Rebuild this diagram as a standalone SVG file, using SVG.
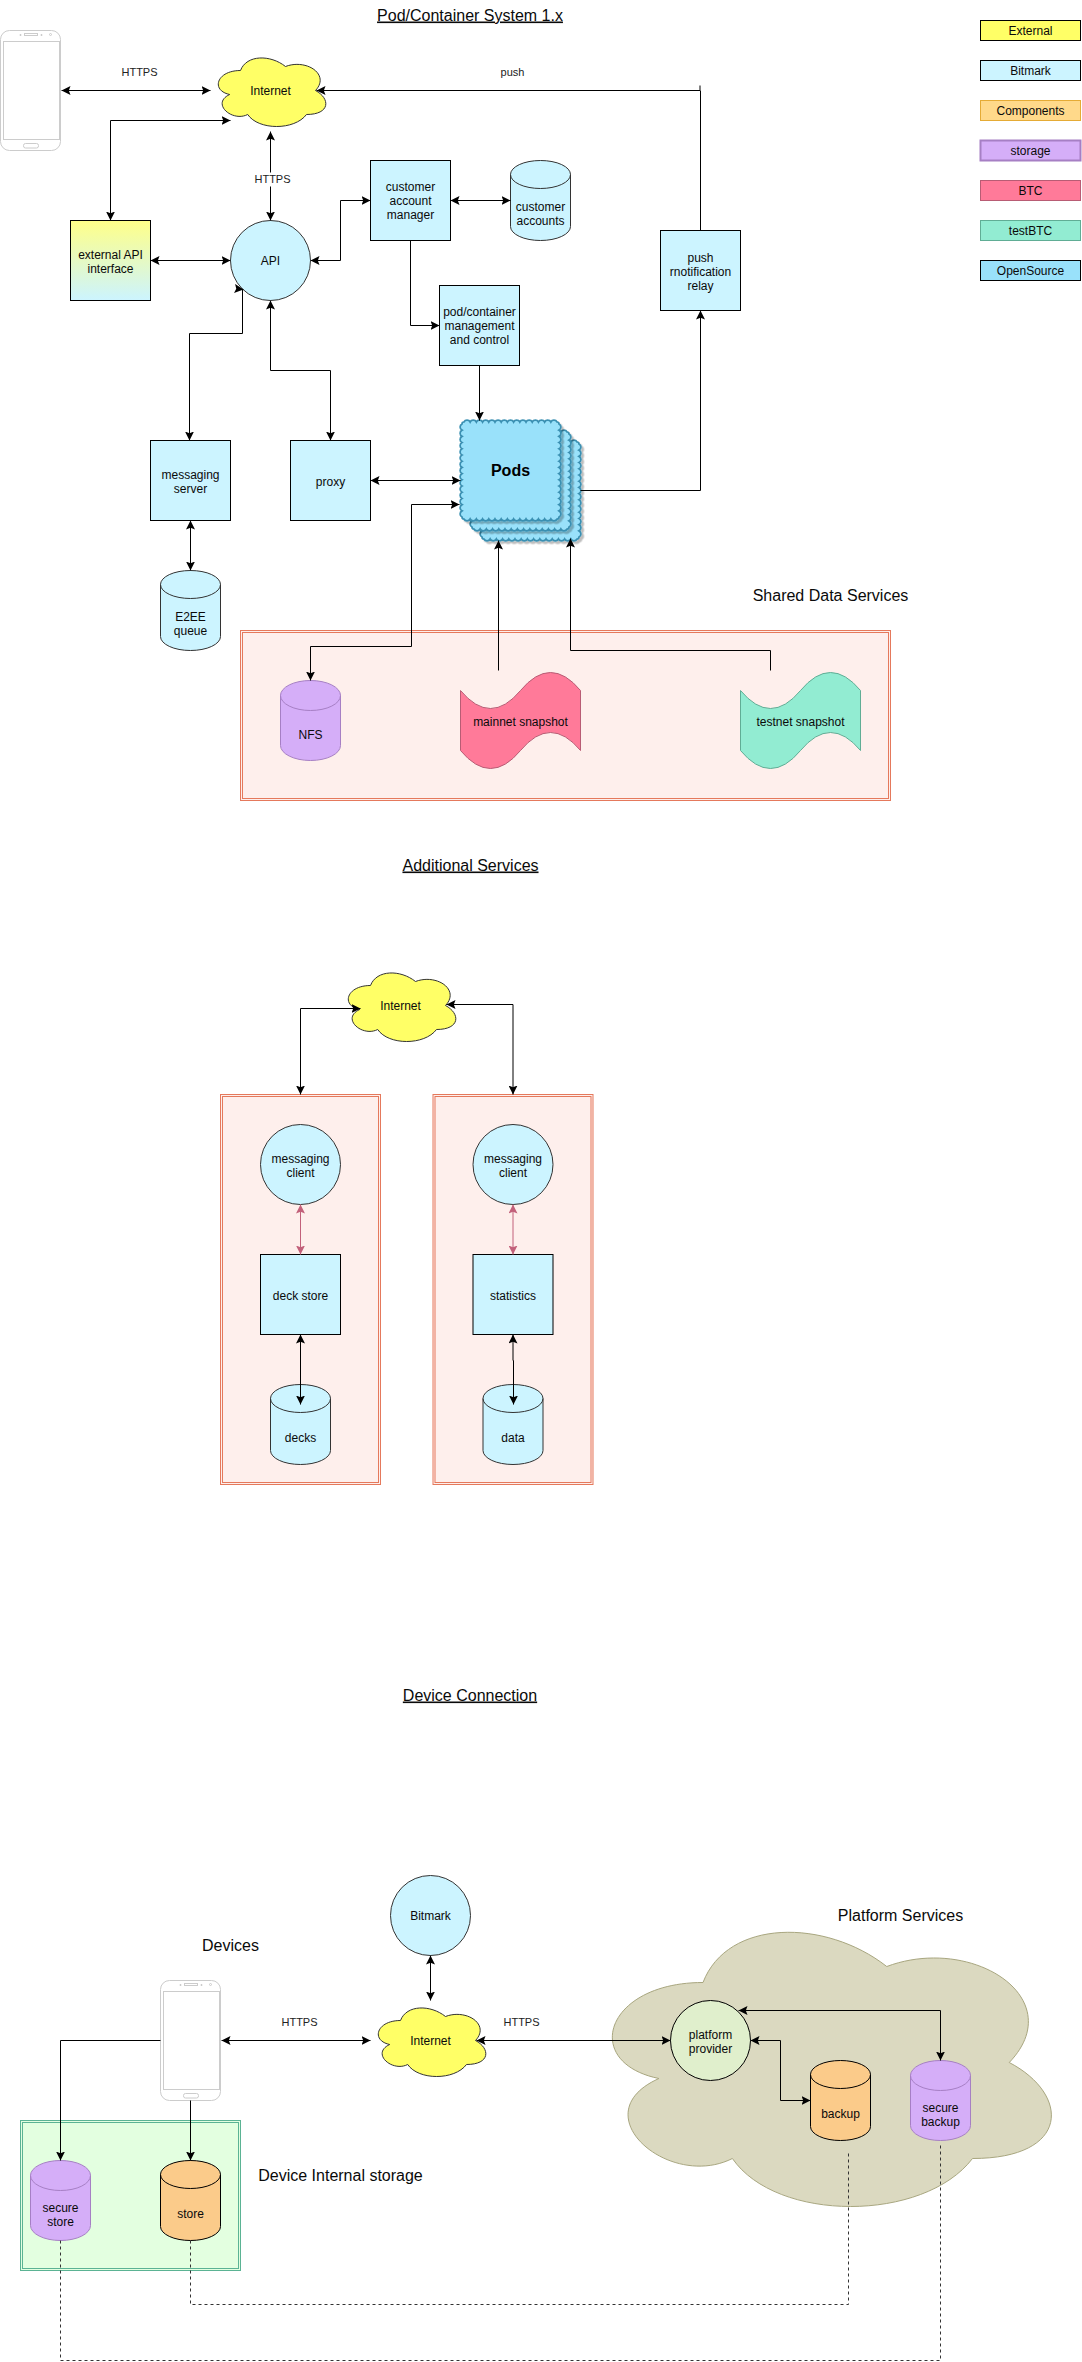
<svg xmlns="http://www.w3.org/2000/svg" xmlns:xlink="http://www.w3.org/1999/xlink" width="1082" height="2362" viewBox="0 0 1082 2362">
<style>
text{font-family:"Liberation Sans",Arial,sans-serif;font-size:12px;fill:#0a0a0a;text-anchor:middle}
.h{font-size:16px}
.u{text-decoration:underline}
.l{font-size:11px;fill:#222}
.b{font-size:16px;font-weight:bold;fill:#000}
.bm{fill:#ccf4ff;stroke:#000}
.bmo{fill:#ccf4ff;stroke:#333}
.ex{fill:#ffff66;stroke:#000}
.ext{fill:#ffff66;stroke:#333}
.cp{fill:#ffd98a;stroke:#e5ab35}
.st{fill:#d5aef8;stroke:#a67fc4}
.btc{fill:#ff7a99;stroke:#b85c74}
.tb{fill:#92ecd2;stroke:#60ad95}
.os{fill:#99e1fa;stroke:#000}
.or{fill:#fbcb8a;stroke:#000}
.fr{fill:#feefec;stroke:#e5795c}
.frg{fill:#e3ffe0;stroke:#5bb394}
.in{fill:none}
.c{fill:none;stroke:#000;stroke-width:1}
.a{marker-end:url(#ah)}
.aa{marker-start:url(#ah);marker-end:url(#ah)}
.r{stroke:#c2607a;marker-start:url(#ahr);marker-end:url(#ahr)}
.d{stroke:#333;stroke-dasharray:3 3}
.ph{fill:#fff;stroke:#ccc}
</style>
<defs>
<marker id="ah" markerUnits="userSpaceOnUse" markerWidth="9" markerHeight="9" viewBox="0 0 8 8" refX="8" refY="4" orient="auto-start-reverse"><path d="M8 4L0 0L1.500 4L0 8Z" fill="#000"/></marker>
<marker id="ahr" markerUnits="userSpaceOnUse" markerWidth="9" markerHeight="9" viewBox="0 0 8 8" refX="8" refY="4" orient="auto-start-reverse"><path d="M8 4L0 0L1.500 4L0 8Z" fill="#c2607a"/></marker>
<linearGradient id="g" x1="0" y1="0" x2="0" y2="1"><stop offset="0" stop-color="#ffff88"/><stop offset="1" stop-color="#ccf4ff"/></linearGradient>
<filter id="sh" x="-10%" y="-10%" width="125%" height="125%"><feDropShadow dx="2.500" dy="2.500" stdDeviation="0.400" flood-color="#000" flood-opacity="0.250"/></filter>
<g id="cyl"><path d="M0 14A30 14 0 0 1 60 14V66A30 14 0 0 1 0 66Z"/><path d="M0 14A30 14 0 0 0 60 14" fill="none"/></g>
<g id="cyl15"><path d="M0 15A30 15 0 0 1 60 15V65A30 15 0 0 1 0 65Z"/><path d="M0 15A30 15 0 0 0 60 15" fill="none"/></g>
<path id="pod" d="M2 0a3.6 3.6 0 0 1 6.4 0a3.6 3.6 0 0 1 6.4 0a3.6 3.6 0 0 1 6.4 0a3.6 3.6 0 0 1 6.4 0a3.6 3.6 0 0 1 6.4 0a3.6 3.6 0 0 1 6.4 0a3.6 3.6 0 0 1 6.4 0a3.6 3.6 0 0 1 6.4 0a3.6 3.6 0 0 1 6.4 0a3.6 3.6 0 0 1 6.4 0a3.6 3.6 0 0 1 6.4 0a3.6 3.6 0 0 1 6.4 0a3.6 3.6 0 0 1 6.4 0a3.6 3.6 0 0 1 6.4 0a3.6 3.6 0 0 1 6.4 0q2 0 2 2a3.6 3.6 0 0 1 0 6.4a3.6 3.6 0 0 1 0 6.4a3.6 3.6 0 0 1 0 6.4a3.6 3.6 0 0 1 0 6.4a3.6 3.6 0 0 1 0 6.4a3.6 3.6 0 0 1 0 6.4a3.6 3.6 0 0 1 0 6.4a3.6 3.6 0 0 1 0 6.4a3.6 3.6 0 0 1 0 6.4a3.6 3.6 0 0 1 0 6.4a3.6 3.6 0 0 1 0 6.4a3.6 3.6 0 0 1 0 6.4a3.6 3.6 0 0 1 0 6.4a3.6 3.6 0 0 1 0 6.4a3.6 3.6 0 0 1 0 6.4q0 2 -2 2a3.6 3.6 0 0 1 -6.4 0a3.6 3.6 0 0 1 -6.4 0a3.6 3.6 0 0 1 -6.4 0a3.6 3.6 0 0 1 -6.4 0a3.6 3.6 0 0 1 -6.4 0a3.6 3.6 0 0 1 -6.4 0a3.6 3.6 0 0 1 -6.4 0a3.6 3.6 0 0 1 -6.4 0a3.6 3.6 0 0 1 -6.4 0a3.6 3.6 0 0 1 -6.4 0a3.6 3.6 0 0 1 -6.4 0a3.6 3.6 0 0 1 -6.4 0a3.6 3.6 0 0 1 -6.4 0a3.6 3.6 0 0 1 -6.4 0a3.6 3.6 0 0 1 -6.4 0q-2 0 -2 -2a3.6 3.6 0 0 1 0 -6.4a3.6 3.6 0 0 1 0 -6.4a3.6 3.6 0 0 1 0 -6.4a3.6 3.6 0 0 1 0 -6.4a3.6 3.6 0 0 1 0 -6.4a3.6 3.6 0 0 1 0 -6.4a3.6 3.6 0 0 1 0 -6.4a3.6 3.6 0 0 1 0 -6.4a3.6 3.6 0 0 1 0 -6.4a3.6 3.6 0 0 1 0 -6.4a3.6 3.6 0 0 1 0 -6.4a3.6 3.6 0 0 1 0 -6.4a3.6 3.6 0 0 1 0 -6.4a3.6 3.6 0 0 1 0 -6.4a3.6 3.6 0 0 1 0 -6.4q0 -2 2 -2Z" fill="#99e1fa" stroke="#3a90b2" stroke-width="1.800"/>
<g id="phone">
<rect x="0" y="0" width="60" height="120" rx="9" ry="9"/>
<rect x="3" y="11" width="56" height="98" fill="none"/>
<rect x="24" y="3" width="13" height="2" fill="none"/>
<circle cx="50" cy="4" r="1" fill="none"/>
<path d="M20 3.500v2M19 4.500h2M41 3.500v2M40 4.500h2" fill="none"/>
<rect x="23" y="113" width="15" height="4.500" rx="2" fill="none"/>
</g>
<path id="cloud" d="M30 20C6 20 0 40 19.200 44C0 52.800 21.600 72 37.200 64C48 80 84 80 96 64C120 64 120 48 105 40C120 24 96 8 75 16C60 4 36 4 30 20Z"/>
</defs>
<g transform="translate(.5 .5)">
<text class="h u" x="469.500" y="20">Pod/Container System 1.x</text>
<text class="h u" x="470" y="870">Additional Services</text>
<text class="h u" x="469.500" y="1700">Device Connection</text>
<text class="h" x="830" y="600">Shared Data Services</text>
<text class="h" x="230" y="1950">Devices</text>
<text class="h" x="340" y="2180">Device Internal storage</text>
<text class="h" x="900" y="1920">Platform Services</text>

<g id="legend">
<g id="leg-external"><rect class="ex" x="980" y="20" width="100" height="20"/><text x="1030" y="34">External</text></g>
<g id="leg-bitmark"><rect class="bm" x="980" y="60" width="100" height="20"/><text x="1030" y="74">Bitmark</text></g>
<g id="leg-components"><rect class="cp" x="980" y="100" width="100" height="20"/><text x="1030" y="114">Components</text></g>
<g id="leg-storage"><rect class="st" stroke-width="2" x="980" y="140" width="100" height="20"/><text x="1030" y="154">storage</text></g>
<g id="leg-btc"><rect class="btc" x="980" y="180" width="100" height="20"/><text x="1030" y="194">BTC</text></g>
<g id="leg-testbtc"><rect class="tb" x="980" y="220" width="100" height="20"/><text x="1030" y="234">testBTC</text></g>
<g id="leg-opensource"><rect class="os" x="980" y="260" width="100" height="20"/><text x="1030" y="274">OpenSource</text></g>
</g>

<g id="phone-1"><use href="#phone" class="ph" x="0" y="30"/></g>
<g id="internet-1"><use href="#cloud" class="ext" x="210" y="50"/><text x="270" y="94">Internet</text></g>
<g id="external-api"><rect x="70" y="220" width="80" height="80" fill="url(#g)" stroke="#000"/><text x="110" y="258">external API</text><text x="110" y="272">interface</text></g>
<g id="api"><circle class="bmo" cx="270" cy="260" r="40"/><text x="270" y="264">API</text></g>
<g id="customer-account-manager"><rect class="bm" x="370" y="160" width="80" height="80"/><text x="410" y="190">customer</text><text x="410" y="204">account</text><text x="410" y="218">manager</text></g>
<g id="customer-accounts"><use href="#cyl" class="bmo" x="510" y="160"/><text x="540" y="210">customer</text><text x="540" y="224">accounts</text></g>
<g id="pod-management"><rect class="bm" x="439" y="285" width="80" height="80"/><text x="479" y="315">pod/container</text><text x="479" y="329">management</text><text x="479" y="343">and control</text></g>
<g id="push-relay"><rect class="bm" x="660" y="230" width="80" height="80"/><text x="700" y="261">push</text><text x="700" y="275">rnotification</text><text x="700" y="289">relay</text></g>
<g id="messaging-server"><rect class="bm" x="150" y="440" width="80" height="80"/><text x="190" y="478">messaging</text><text x="190" y="492">server</text></g>
<g id="proxy"><rect class="bm" x="290" y="440" width="80" height="80"/><text x="330" y="485">proxy</text></g>
<g id="e2ee-queue"><use href="#cyl" class="bmo" x="160" y="570"/><text x="190" y="620">E2EE</text><text x="190" y="634">queue</text></g>
<g id="pods"><use href="#pod" transform="translate(481.500 441.500) scale(.97)" filter="url(#sh)"/><use href="#pod" transform="translate(471.500 431.500) scale(.97)" filter="url(#sh)"/><use href="#pod" transform="translate(461.500 421.500) scale(.97)" filter="url(#sh)"/><text class="b" x="510" y="475">Pods</text></g>

<g id="shared-data-services"><rect class="fr" x="240" y="630" width="650" height="170"/><rect class="fr in" x="242" y="632" width="646" height="166"/></g>
<g id="nfs"><use href="#cyl15" class="st" x="280" y="680"/><text x="310" y="738">NFS</text></g>
<g id="mainnet-snapshot"><path class="btc" d="M460 690Q490 726 520 690Q550 654 580 690V750Q550 714 520 750Q490 786 460 750Z"/><text x="520" y="725">mainnet snapshot</text></g>
<g id="testnet-snapshot"><path class="tb" d="M740 690Q770 726 800 690Q830 654 860 690V750Q830 714 800 750Q770 786 740 750Z"/><text x="800" y="725">testnet snapshot</text></g>

<g id="internet-2"><use href="#cloud" class="ext" x="340" y="965"/><text x="400" y="1009">Internet</text></g>
<g id="frame-deck"><rect class="fr" x="220" y="1094" width="160" height="390"/><rect class="fr in" x="222" y="1096" width="156" height="386"/></g>
<g id="frame-statistics"><rect class="fr" x="432.500" y="1094" width="160" height="390"/><rect class="fr in" x="434.500" y="1096" width="156" height="386"/></g>
<g id="messaging-client-1"><circle class="bmo" cx="300" cy="1164" r="40"/><text x="300" y="1162">messaging</text><text x="300" y="1176">client</text></g>
<g id="deck-store"><rect class="bm" x="260" y="1254" width="80" height="80"/><text x="300" y="1299">deck store</text></g>
<g id="decks"><use href="#cyl" class="bmo" x="270" y="1384"/><text x="300" y="1441">decks</text></g>
<g id="messaging-client-2"><circle class="bmo" cx="512.500" cy="1164" r="40"/><text x="512.500" y="1162">messaging</text><text x="512.500" y="1176">client</text></g>
<g id="statistics"><rect class="bm" x="472.500" y="1254" width="80" height="80"/><text x="512.500" y="1299">statistics</text></g>
<g id="data"><use href="#cyl" class="bmo" x="482.500" y="1384"/><text x="512.500" y="1441">data</text></g>

<g id="bitmark"><circle class="bmo" cx="430" cy="1915" r="40"/><text x="430" y="1919">Bitmark</text></g>
<g id="internet-3"><use href="#cloud" class="ext" x="370" y="2000"/><text x="430" y="2044">Internet</text></g>
<g id="phone-2"><use href="#phone" class="ph" x="160" y="1980"/></g>
<g id="device-storage"><rect class="frg" x="20" y="2120" width="220" height="150"/><rect class="frg in" x="22" y="2122" width="216" height="146"/></g>
<g id="secure-store"><use href="#cyl15" class="st" x="30" y="2160"/><text x="60" y="2211">secure</text><text x="60" y="2225">store</text></g>
<g id="store"><use href="#cyl" class="or" x="160" y="2160"/><text x="190" y="2217">store</text></g>
<g id="platform-services"><path d="M702.500 1982C604.500 1982 580 2062 658.400 2078C580 2113.200 668.200 2190 731.900 2158C776 2222 923 2222 972 2158C1070 2158 1070 2094 1008.750 2062C1070 1998 972 1934 886.250 1966C825 1918 727 1918 702.500 1982Z" fill="#dbd9c0" stroke="#a8a67f"/></g>
<g id="platform-provider"><circle cx="710" cy="2040" r="40" fill="#e0efcc" stroke="#000"/><text x="710" y="2038">platform</text><text x="710" y="2052">provider</text></g>
<g id="backup"><use href="#cyl" class="or" x="810" y="2060"/><text x="840" y="2117">backup</text></g>
<g id="secure-backup"><use href="#cyl15" class="st" x="910" y="2060"/><text x="940" y="2111">secure</text><text x="940" y="2125">backup</text></g>

<g id="connectors">
<path class="c aa" d="M61 90H210"/>
<path class="c a" d="M699.500 85V90H316"/>
<path class="c" d="M700 230V90"/>
<path class="c aa" d="M110 220V120H230"/>
<path class="c aa" d="M270 131V220"/>
<path class="c aa" d="M150 260H230"/>
<path class="c aa" d="M310 260H340V200H370"/>
<path class="c aa" d="M450 200H510"/>
<path class="c a" d="M410 240V325H439"/>
<path class="c a" d="M479 365V420"/>
<path class="c aa" d="M330 440V370H270V300"/>
<path class="c a" d="M189 333V440"/>
<path class="c" d="M189 333H242V289"/>
<path class="c a" d="M238 288.400L243 289"/>
<path class="c aa" d="M370 480H460"/>
<path class="c aa" d="M190 520V570"/>
<path class="c aa" d="M310 680V646H411V504H459"/>
<path class="c a" d="M498 670V540"/>
<path class="c a" d="M770 670V650H570V538"/>
<path class="c a" d="M580 490H700V310"/>
<path class="c aa" d="M300 1094V1008H360"/>
<path class="c aa" d="M512.500 1094V1004H446"/>
<path class="c r" d="M300 1204V1254"/>
<path class="c r" d="M512.500 1204V1254"/>
<path class="c aa" d="M300 1334V1404"/>
<path class="c aa" d="M512.500 1334V1360H513V1404"/>
<path class="c aa" d="M430 1955V2000"/>
<path class="c aa" d="M221 2040H370"/>
<path class="c a" d="M160 2040H60V2160"/>
<path class="c a" d="M190 2100V2160"/>
<path class="c aa" d="M476 2040H670"/>
<path class="c aa" d="M750 2040H780V2100H810"/>
<path class="c aa" d="M738 2010H940V2060"/>
<path class="c d" d="M190 2240V2304H848V2150"/>
<path class="c d" d="M60 2240V2360H940V2142"/>
</g>

<g id="labels">
<text class="l" x="139" y="75">HTTPS</text>
<text class="l" x="512" y="75">push</text>
<rect x="250" y="172" width="40" height="14" fill="#fff" stroke="none"/>
<text class="l" x="272" y="182">HTTPS</text>
<text class="l" x="299" y="2025">HTTPS</text>
<text class="l" x="521" y="2025">HTTPS</text>
</g>
</g>
</svg>
